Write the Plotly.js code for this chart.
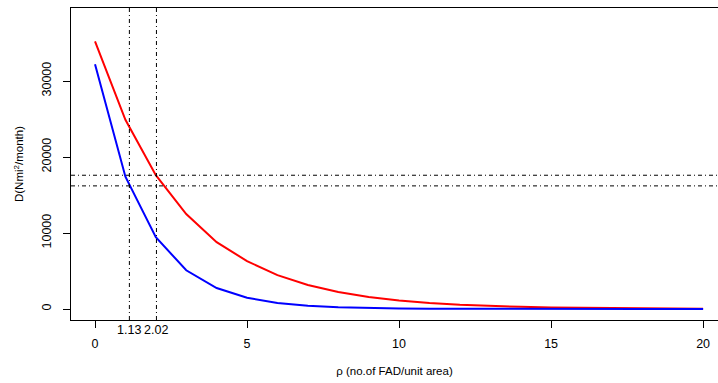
<!DOCTYPE html>
<html>
<head>
<meta charset="utf-8">
<script src="https://cdn.plot.ly/plotly-3.0.1.min.js"></script>
<style>html,body{margin:0;padding:0;background:#fff;}#chart{width:718px;height:383px;}</style>
</head>
<body>
<div id="chart"></div>
<script>
// rho (no. of FAD per unit area)
const rho = [0,1,2,3,4,5,6,7,8,9,10,11,12,13,14,15,16,17,18,19,20];
// D (Nmi^2/month), red series
const dRed = [35200,24900,17600,12500,8800,6300,4450,3150,2230,1580,1120,790,560,395,280,200,140,100,70,50,35];
// D (Nmi^2/month), blue series
const dBlue = [32200,17400,9450,5100,2760,1480,800,430,235,125,68,37,20,11,6,3,2,1,0.5,0.3,0.1];
// reference lines
const rhoMarks = [1.13, 2.02];
const rhoMarkLabels = ["1.13", "2.02"];
const dMarks = [17600, 16200];
// axis ticks
const xTicks = [0,5,10,15,20];
const yTicks = [0,10000,20000,30000];

const font = "Liberation Sans, Arial, sans-serif";
const dashDot = "4px,3px,1px,3px";

const traces = [
  {x: rho, y: dRed, type: "scatter", mode: "lines", line: {color: "#ff0000", width: 2}, hoverinfo: "skip"},
  {x: rho, y: dBlue, type: "scatter", mode: "lines", line: {color: "#0000ff", width: 2}, hoverinfo: "skip"}
];

const shapes = [];
rhoMarks.forEach(v => shapes.push({type: "line", xref: "x", yref: "paper", x0: v, x1: v, y0: 0, y1: 1,
  line: {color: "#000", width: 1, dash: dashDot}}));
dMarks.forEach(v => shapes.push({type: "line", xref: "paper", yref: "y", x0: 0, x1: 1, y0: v, y1: v,
  line: {color: "#000", width: 1, dash: dashDot}}));

const annotations = rhoMarks.map((v, i) => ({
  x: v, y: 0, xref: "x", yref: "paper", text: rhoMarkLabels[i], showarrow: false,
  yanchor: "top", yshift: -1, font: {family: font, size: 12.5, color: "#000"}
}));

const layout = {
  width: 718, height: 383,
  margin: {l: 71, r: 0, t: 8, b: 63},
  paper_bgcolor: "#fff", plot_bgcolor: "#fff",
  showlegend: false,
  font: {family: font, size: 12.5, color: "#000"},
  xaxis: {
    range: [-0.79, 20.49], tickvals: xTicks, ticktext: xTicks.map(String),
    ticks: "outside", ticklen: 7, tickwidth: 1, tickcolor: "#000",
    showline: true, linecolor: "#000", linewidth: 1, mirror: true,
    showgrid: false, zeroline: false, ticklabelstandoff: 5,
    title: {text: "\u03c1 (no.of FAD/unit area)", font: {size: 11.5, family: font}, standoff: 16}
  },
  yaxis: {
    range: [-1447, 39605], tickvals: yTicks, ticktext: yTicks.map(String),
    ticks: "outside", ticklen: 7, tickwidth: 1, tickcolor: "#000", tickangle: -90,
    showline: true, linecolor: "#000", linewidth: 1,
    showgrid: false, zeroline: false, ticklabelstandoff: 7,
    title: {text: "D(Nmi<sup>2</sup>/month)", font: {size: 11.5, family: font}, standoff: 13}
  },
  shapes: shapes,
  annotations: annotations
};

Plotly.newPlot("chart", traces, layout, {staticPlot: true, displayModeBar: false});
</script>
</body>
</html>
